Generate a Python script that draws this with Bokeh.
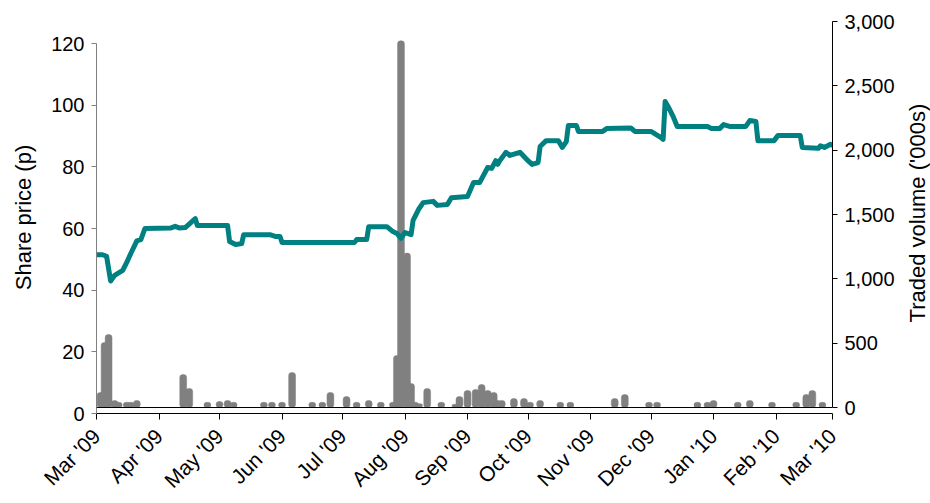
import math
import pandas as pd
from bokeh.plotting import figure
from bokeh.models import (Range1d, LinearAxis, Span, MonthsTicker, DatetimeTickFormatter,
                          SingleIntervalTicker, NumeralTickFormatter, ColumnDataSource, Label)
from bokeh.embed import file_html
from bokeh.resources import INLINE

# ---- data ----
price_dates = [
    "2009-03-01", "2009-03-04", "2009-03-06", "2009-03-08", "2009-03-10", "2009-03-14",
    "2009-03-16", "2009-03-18", "2009-03-21", "2009-03-23", "2009-03-25", "2009-04-07",
    "2009-04-09", "2009-04-11", "2009-04-14", "2009-04-19", "2009-04-20", "2009-05-05",
    "2009-05-06", "2009-05-09", "2009-05-12", "2009-05-13", "2009-05-26", "2009-05-29",
    "2009-05-31", "2009-06-01", "2009-07-07", "2009-07-08", "2009-07-13", "2009-07-14",
    "2009-07-23", "2009-07-26", "2009-07-28", "2009-07-30", "2009-08-01", "2009-08-04",
    "2009-08-05", "2009-08-08", "2009-08-10", "2009-08-15", "2009-08-17", "2009-08-22",
    "2009-08-24", "2009-09-01", "2009-09-04", "2009-09-07", "2009-09-11", "2009-09-13",
    "2009-09-15", "2009-09-16", "2009-09-17", "2009-09-20", "2009-09-22", "2009-09-27",
    "2009-10-01", "2009-10-03", "2009-10-06", "2009-10-07", "2009-10-10", "2009-10-16",
    "2009-10-18", "2009-10-20", "2009-10-21", "2009-10-25", "2009-10-26", "2009-11-07",
    "2009-11-09", "2009-11-21", "2009-11-23", "2009-12-01", "2009-12-06", "2009-12-07",
    "2009-12-08", "2009-12-10", "2009-12-12", "2009-12-14", "2009-12-29", "2009-12-31",
    "2010-01-04", "2010-01-06", "2010-01-09", "2010-01-17", "2010-01-19", "2010-01-22",
    "2010-01-23", "2010-01-31", "2010-02-02", "2010-02-13", "2010-02-14", "2010-02-22",
    "2010-02-23", "2010-02-25", "2010-02-28", "2010-03-01",
]
price_values = [
    51.5, 51.5, 51.0, 43.0, 44.8, 46.4,
    49.0, 51.9, 56.0, 56.4, 60.0, 60.2,
    60.7, 60.2, 60.3, 63.2, 61.0, 61.0,
    55.8, 54.8, 55.1, 58.0, 58.0, 57.4,
    57.4, 55.5, 55.5, 56.4, 56.4, 60.6,
    60.6, 59.0, 58.4, 56.8, 58.7, 58.0,
    62.6, 66.5, 68.4, 68.8, 67.5, 67.8,
    70.0, 70.4, 74.9, 74.9, 79.8, 79.5,
    82.0, 80.8, 82.0, 84.7, 83.7, 84.7,
    82.0, 80.8, 81.4, 86.6, 88.5, 88.5,
    86.3, 88.2, 93.4, 93.4, 91.5, 91.5,
    92.4, 92.6, 91.5, 91.5, 89.5, 88.9,
    101.2, 98.9, 96.3, 93.1, 93.1, 92.4,
    92.4, 93.7, 93.1, 93.1, 95.0, 94.7,
    88.5, 88.5, 90.2, 90.2, 86.3, 86.0,
    86.8, 86.3, 87.3, 87.0,
]

volume_dates = [
    "2009-03-03", "2009-03-05", "2009-03-07", "2009-03-10", "2009-03-12", "2009-03-16",
    "2009-03-18", "2009-03-21", "2009-04-13", "2009-04-16", "2009-04-25", "2009-05-01",
    "2009-05-05", "2009-05-08", "2009-05-23", "2009-05-27", "2009-06-01", "2009-06-06",
    "2009-06-16", "2009-06-21", "2009-06-25", "2009-07-03", "2009-07-08", "2009-07-14",
    "2009-07-20", "2009-07-26", "2009-07-28", "2009-07-30", "2009-08-02", "2009-08-04",
    "2009-08-06", "2009-08-08", "2009-08-12", "2009-08-19", "2009-08-26", "2009-08-28",
    "2009-09-01", "2009-09-05", "2009-09-08", "2009-09-11", "2009-09-14", "2009-09-16",
    "2009-09-18", "2009-09-24", "2009-09-29", "2009-10-02", "2009-10-07", "2009-10-17",
    "2009-10-22", "2009-11-13", "2009-11-18", "2009-11-30", "2009-12-04", "2009-12-24",
    "2009-12-29", "2010-01-01", "2010-01-13", "2010-01-19", "2010-01-30", "2010-02-11",
    "2010-02-16", "2010-02-19", "2010-02-24",
]
volume_values = [
    117, 505, 567, 54, 40, 40,
    40, 55, 256, 148, 40, 47,
    55, 40, 40, 40, 40, 272,
    40, 40, 117, 85, 40, 55,
    40, 40, 404, 2850, 1200, 186,
    40, 30, 148, 40, 25, 85,
    132, 140, 179, 132, 117, 55,
    55, 70, 70, 40, 55, 40,
    40, 70, 101, 40, 40, 40,
    40, 55, 40, 55, 40, 40,
    101, 132, 40,
]

price_src = ColumnDataSource(dict(date=pd.to_datetime(price_dates), price=price_values))
vol_src = ColumnDataSource(dict(date=pd.to_datetime(volume_dates), vol=volume_values))

FONT = "Liberation Sans"
FS = "20px"
TS = "22px"

x_start = pd.Timestamp("2009-03-01")
x_end = pd.Timestamp("2010-03-01")

p = figure(width=930, height=503, x_axis_type="datetime",
           x_range=Range1d(start=x_start, end=x_end),
           y_range=Range1d(start=0, end=127.14),
           output_backend="svg", toolbar_location=None,
           min_border_left=96, min_border_right=98, min_border_top=21, min_border_bottom=90)
p.outline_line_color = None
p.grid.visible = False
p.background_fill_color = "white"
p.border_fill_color = "white"

p.extra_y_ranges = {"vol": Range1d(start=-46.6, end=3000)}

day_ms = 24 * 3600 * 1000
p.vbar(x="date", top="vol", bottom=0, width=3.4 * day_ms, source=vol_src,
       y_range_name="vol", fill_color="#808080", line_color="#808080", line_width=0.5,
       border_radius=3)

p.add_layout(Span(location=0, dimension="width", y_range_name="vol",
                  line_color="black", line_width=1))

p.line(x="date", y="price", source=price_src, line_color="#008080", line_width=5,
       line_join="round", line_cap="round")

# left axis
ya = p.yaxis[0]
ya.ticker = SingleIntervalTicker(interval=20)
ya.bounds = (0, 120)
ya.axis_label = "Share price (p)"
ya.axis_line_color = "#808080"
ya.major_tick_line_color = "#808080"

# right axis (title drawn separately so it reads bottom-to-top, centred)
ra = LinearAxis(y_range_name="vol", ticker=SingleIntervalTicker(interval=500),
                formatter=NumeralTickFormatter(format="0,0"), bounds=(0, 3000))
p.add_layout(ra, "right")

title_x = (x_end + pd.Timedelta(days=42)).timestamp() * 1000
p.add_layout(Label(x=title_x, y=65.0, text="Traded volume ('000s)", angle=math.pi / 2,
                   text_align="center", text_baseline="middle", text_font=FONT,
                   text_font_size=TS, text_color="black"), "right")

# bottom axis
xa = p.xaxis[0]
xa.ticker = MonthsTicker(months=list(range(12)))
xa.formatter = DatetimeTickFormatter(months="%b '%y", days="%b '%y", years="%b '%y")
xa.major_label_orientation = math.pi / 4

for ax in (ya, ra, xa):
    ax.major_label_text_font = FONT
    ax.major_label_text_font_size = FS
    ax.major_label_text_color = "black"
    ax.axis_label_text_font = FONT
    ax.axis_label_text_font_size = TS
    ax.axis_label_text_font_style = "normal"
    ax.axis_label_text_color = "black"
    ax.minor_tick_line_color = None
    ax.major_tick_in = 0
    ax.major_tick_out = 5
    ax.major_label_standoff = 7
    ax.axis_label_standoff = 12
ra.axis_line_color = "black"
xa.axis_line_color = "black"
xa.major_tick_out = 6
xa.major_label_text_font_size = "21px"
xa.major_label_standoff = 13

open("out.html", "w").write(file_html(p, INLINE))
